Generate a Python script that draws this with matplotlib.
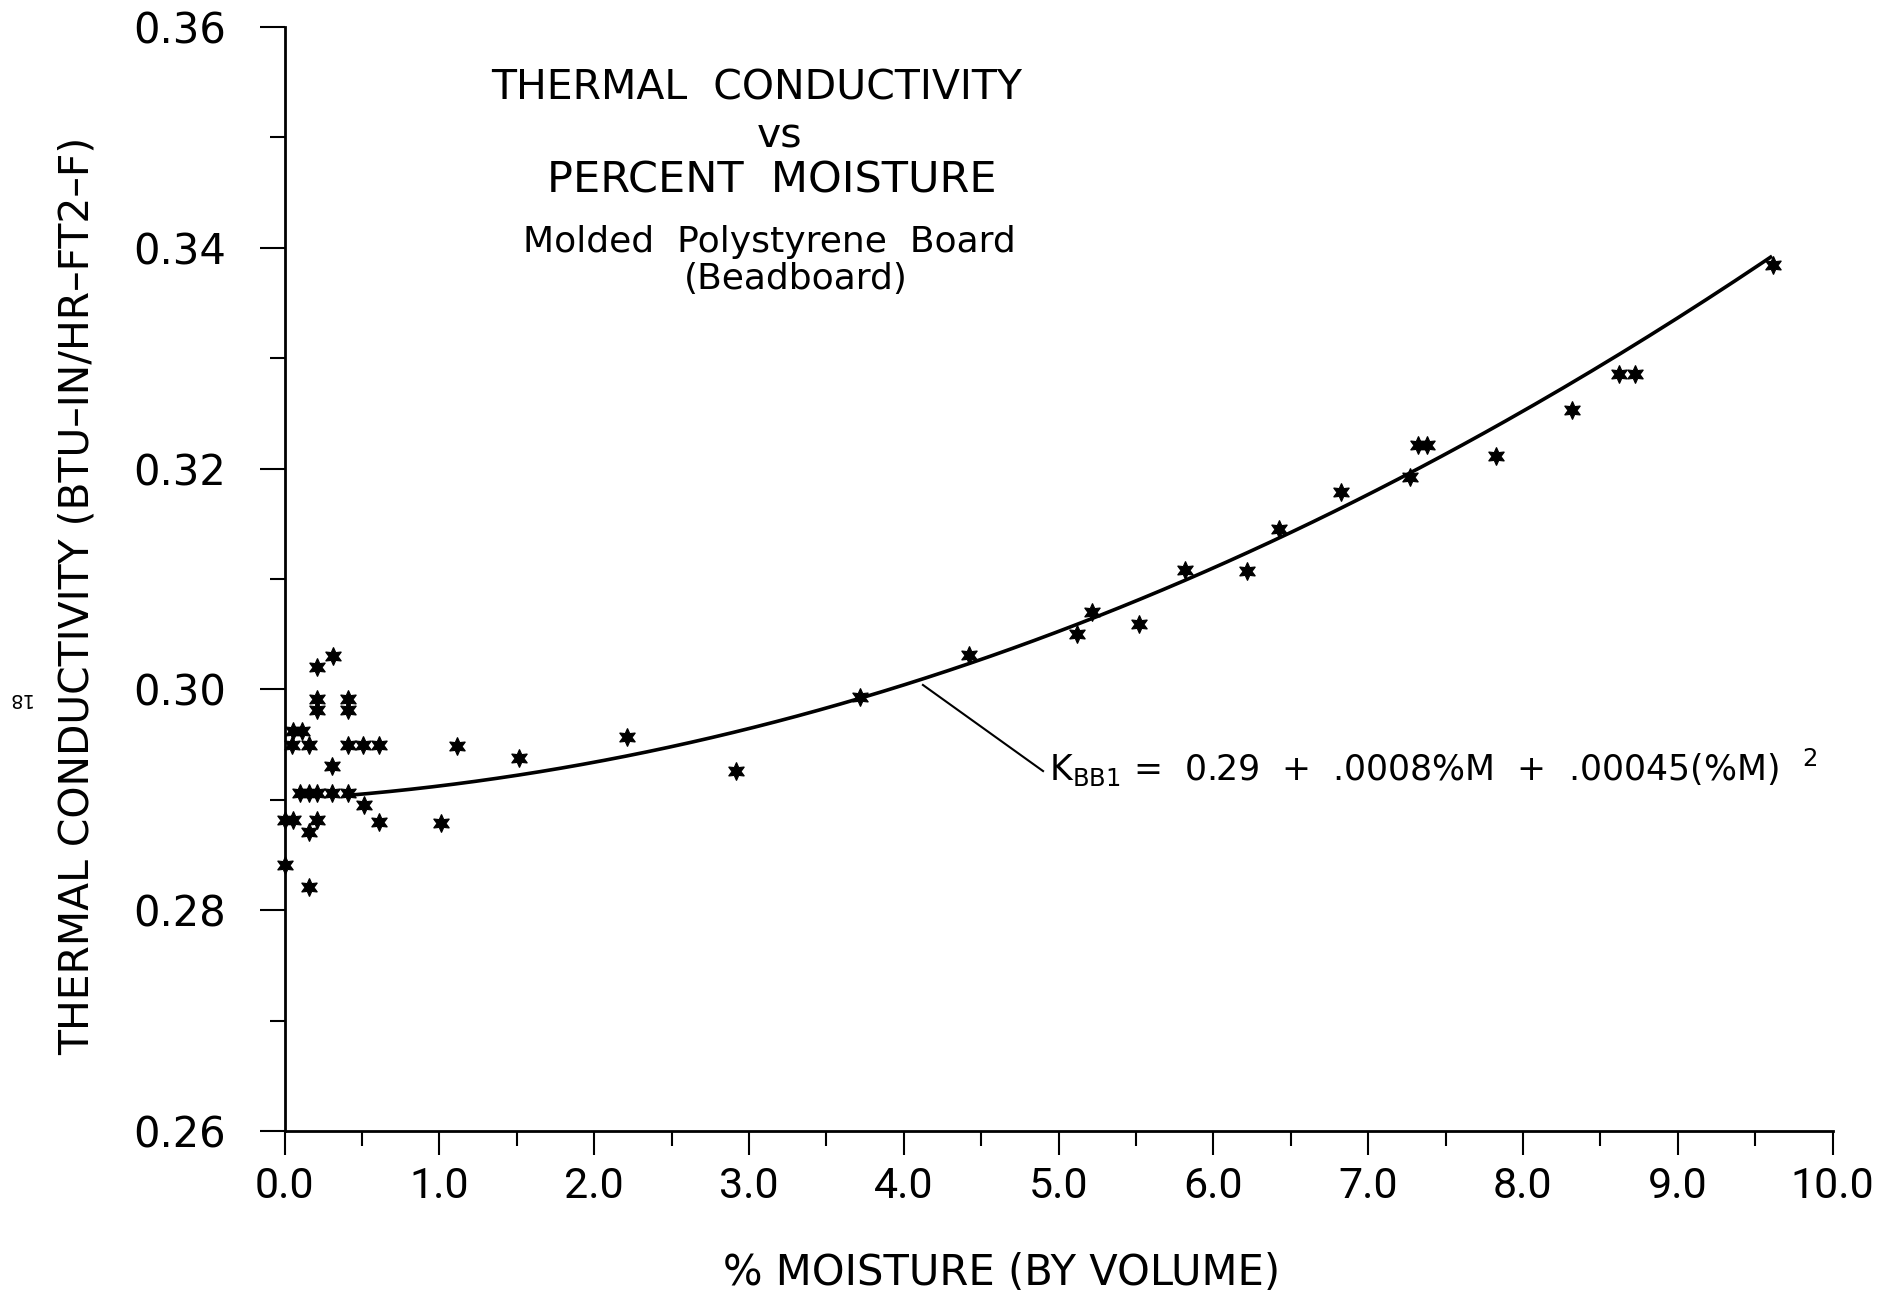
#!/usr/bin/env python3
import numpy as np
from matplotlib import pyplot as plt

plt.rcParams['font.family'] = ['DejaVu Sans']

# data
moisture = [0.315, 0.212, 0.212, 0.212, 0.412, 0.412, 0.057, 0.111, 0.050, 0.160,
            0.412, 0.509, 0.610, 0.309, 0.100, 0.160, 0.212, 0.305, 0.412, 0.513,
            0.003, 0.057, 0.212, 0.160, 0.610, 0.003, 0.160,
            1.009, 1.116, 1.514, 2.212, 2.916, 3.717, 4.422, 5.120, 5.219, 5.520,
            5.820, 6.220, 6.422, 6.827, 7.273, 7.322, 7.380, 7.828, 8.319, 8.618,
            8.721, 9.614]
conductivity = [0.3030, 0.3020, 0.2991, 0.2981, 0.2991, 0.2981, 0.2962, 0.2962, 0.2950, 0.2950,
                0.2950, 0.2950, 0.2950, 0.2931, 0.2906, 0.2906, 0.2906, 0.2906, 0.2906, 0.2895,
                0.2882, 0.2882, 0.2882, 0.2871, 0.2880, 0.2841, 0.2821,
                0.2879, 0.2949, 0.2938, 0.2957, 0.2926, 0.2993, 0.3031, 0.3050, 0.3070, 0.3059,
                0.3108, 0.3107, 0.3145, 0.3179, 0.3192, 0.3221, 0.3221, 0.3211, 0.3253, 0.3286,
                0.3286, 0.3384]

# fit from the chart: K = 0.29 + .0008 %M + .00045 (%M)^2
fit_coef = [0.29, 0.0008, 0.00045]
fit_range = (0.4, 9.6)

x_ticks = [0.0, 1.0, 2.0, 3.0, 4.0, 5.0, 6.0, 7.0, 8.0, 9.0, 10.0]
y_ticks = [0.26, 0.28, 0.30, 0.32, 0.34, 0.36]

fig = plt.figure(figsize=(18.97, 12.98), dpi=100)
ax = fig.add_axes([0.15, 0.1287, 0.816, 0.8505])

ax.plot(moisture, conductivity, linestyle='none', marker=(6, 1, 0),
        markersize=13, color='black', markeredgewidth=0.8, clip_on=False)

xf = np.linspace(fit_range[0], fit_range[1], 200)
yf = fit_coef[0] + fit_coef[1] * xf + fit_coef[2] * xf**2
ax.plot(xf, yf, color='black', linewidth=2.6)

###
### axes
###
ax.set_xlim(0, 10)
ax.set_ylim(0.26, 0.36)
ax.spines['top'].set_visible(False)
ax.spines['right'].set_visible(False)
ax.spines['left'].set_linewidth(2.0)
ax.spines['bottom'].set_linewidth(2.0)

ax.set_xticks(x_ticks)
ax.set_xticklabels([f'{v:.1f}' for v in x_ticks], fontsize=31, family='Roboto')
ax.set_xticks(np.arange(0.5, 10, 1.0), minor=True)
ax.set_yticks(y_ticks)
ax.set_yticklabels([f'{v:.2f}' for v in y_ticks], fontsize=30)
ax.set_yticks(np.arange(0.27, 0.36, 0.02), minor=True)

ax.tick_params(axis='x', which='major', length=17, width=1.5, pad=8)
ax.tick_params(axis='x', which='minor', length=11, width=1.5)
ax.tick_params(axis='y', which='major', length=18, width=1.5, pad=24)
ax.tick_params(axis='y', which='minor', length=11, width=1.5)

ax.set_xlabel('% MOISTURE (BY VOLUME)', fontsize=30)
ax.xaxis.set_label_coords(0.463, -0.110)
ax.set_ylabel('THERMAL CONDUCTIVITY (BTU\u2013IN/HR\u2013FT2\u2013F)', fontsize=29.4)
ax.yaxis.set_label_coords(-0.121, 0.485)

###
### titles
###
ax.text(3.05, 0.3544, 'THERMAL  CONDUCTIVITY', fontsize=29.5, ha='center', va='center')
ax.text(3.20, 0.3501, 'vs', fontsize=29.5, ha='center', va='center')
ax.text(3.15, 0.3461, 'PERCENT  MOISTURE', fontsize=31, ha='center', va='center')
ax.text(3.13, 0.3405, 'Molded  Polystyrene  Board', fontsize=26, ha='center', va='center')
ax.text(3.30, 0.3372, '(Beadboard)', fontsize=26, ha='center', va='center')

# equation with leader line
ax.plot([4.124, 4.90], [0.3004, 0.2926], color='black', linewidth=1.5)
ax.text(4.94, 0.2917, r'K$_{\mathrm{BB1}}$ =  0.29  +  .0008%M  +  .00045(%M)  $^{2}$',
        fontsize=25, ha='left', va='baseline')

# page number in the margin
fig.text(0.0095, 0.4615, '18', fontsize=14, rotation=180, ha='center', va='center')

plt.savefig('out.png', dpi=100)
